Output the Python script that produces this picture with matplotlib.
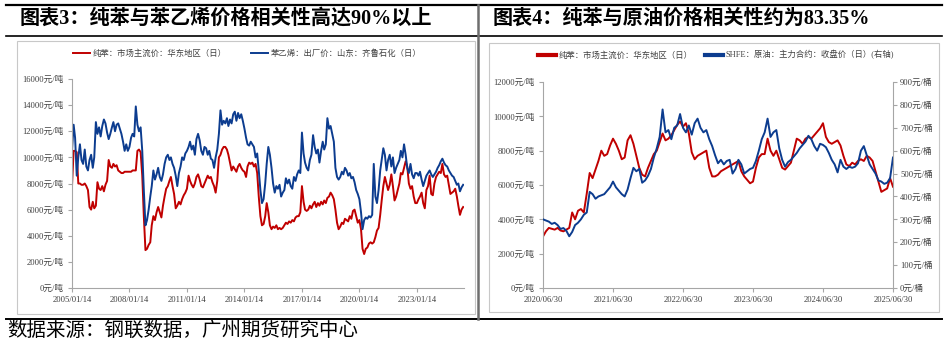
import numpy as np
import pandas as pd
import matplotlib
matplotlib.use('Agg')
import matplotlib.pyplot as plt
from matplotlib.lines import Line2D
from matplotlib.patches import Rectangle

plt.rcParams['font.family'] = ['Liberation Serif', 'Noto Sans CJK SC']

# ---- data: chart 3 (monthly, 2005/01 - 2025/06) ----
benzene_m = [
    7800, 10500, 10500, 10400, 8000, 8000, 7900, 7900, 8000, 7800, 7500, 6200,
    6000, 6600, 6100, 6300, 8100, 7600, 7500, 7800, 7400, 7900, 8200, 9800,
    9300, 9200, 9500, 9300, 9400, 9000, 8900, 8800, 8800, 8900, 8900, 8900,
    8900, 8900, 9000, 9000, 9000, 10500, 10600, 10400, 8600, 5500, 2900, 3000,
    3300, 3500, 4800, 5500, 5200, 5800, 6200, 5800, 5400, 6300, 7000, 7600,
    7800, 8200, 8500, 7800, 7200, 6100, 6300, 6600, 6400, 6800, 7100, 7300,
    7600, 8600, 8200, 7900, 7700, 8000, 8500, 8700, 8300, 7800, 7700, 8000,
    8300, 8600, 8400, 8500, 8100, 7800, 7300, 8200, 10000, 10200, 10600, 10800,
    10800, 10600, 10200, 9600, 9000, 9300, 9100, 8900, 9300, 9500, 9200, 9000,
    8900, 8500, 9300, 9600, 9500, 9600, 9300, 9500, 8800, 7000, 5500, 4800,
    4900, 5500, 6500, 5800, 4800, 4500, 4700, 4600, 4800, 4500, 4600, 4500,
    4600, 4800, 5000, 4900, 5100, 5000, 5200, 5100, 5400, 5500, 5500, 5800,
    7800, 6600, 6000, 5900, 6000, 6300, 6100, 6400, 6600, 6200, 6500, 6300,
    6600, 6400, 6700, 6500, 6900, 7000, 7300, 7100, 6800, 6000, 5000, 4500,
    4700, 5000, 4900, 5300, 5200, 5100, 5500, 5300, 5900, 6000, 5500, 5000,
    5200, 4500, 3000, 2600, 3000, 3100, 3400, 3500, 3400, 3500, 3900, 4400,
    4600, 5600, 6700, 7800, 8500, 8000, 7500, 7900, 8700, 7800, 6700, 7000,
    7500, 8000, 8800, 8700, 9200, 9700, 9300, 8000, 7600, 7800, 7000, 6500,
    6500, 6800, 7000, 7300, 6500, 6100, 7500, 7800, 8600, 7200, 7100, 8000,
    8500, 8700, 8900, 8800, 9500, 8700, 8500, 8600, 7900, 7200, 7300, 7400,
    7600, 7000, 6300, 5600, 6000, 6200,
]
styrene_m = [
    10500, 12500, 11500, 8600, 10000, 11000, 9800, 9500, 10600, 9300, 9000, 9800,
    10200, 9200, 10000, 12700, 11800, 12300, 11600, 12400, 12900, 12600, 11900, 11400,
    11800, 12300, 12700, 12000, 12500, 12600, 12200, 11800, 11200, 10500, 11000, 10500,
    10800, 11500, 11800, 11600, 13900, 12500, 12000, 12300, 10500, 7500, 4800, 5200,
    6000, 7000, 7800, 9000, 8300, 8700, 9200, 8500, 8200, 8700, 9500, 10000,
    10200, 9800, 10000, 9500, 9200, 8600, 7800, 8800, 9300, 10000, 9800, 10300,
    10500, 10800, 11200, 10600, 10900, 10200, 11400, 11800, 11300, 10500, 10200, 10800,
    10700, 10200, 10500, 9900, 9800, 9200, 10000, 10600, 11800, 13600, 12500, 12800,
    12600, 13000, 12400, 12900, 12600, 13300, 13500, 12800, 13400, 13000, 13300, 12800,
    12200, 11500, 11000, 10900, 11200, 11000, 10800, 10000, 10300, 9000, 7500, 6500,
    6800, 8000, 9500, 10800, 10200, 9200, 8000, 7300, 7800, 7600, 7900, 7000,
    7300, 7500, 8400, 8000, 8300, 7800, 7600, 8500, 8200, 8700, 9000, 8800,
    11900, 10300, 9600, 9200, 9000, 9800, 10200, 11700, 10800, 10300, 10600, 9600,
    10500, 11200, 10600, 11000, 13000, 12200, 12400, 11800, 11200, 9200, 8500, 8300,
    8500, 8900, 8700, 9200, 9000, 8600, 8800, 8400, 8500, 8100, 7500, 7200,
    6800, 5800, 4500, 5200, 5400, 5300, 5500, 5400, 5600, 9500, 7000, 6500,
    7500, 9000, 9800, 10700, 10200, 9000, 9800, 10200, 9300, 10000, 8800, 9200,
    9500, 9800, 10500, 10000, 11000, 10200, 9200, 8800, 9500, 8700, 8400, 8800,
    8800, 8600, 8900, 8300, 7800, 8200, 8600, 8800, 9000, 8700, 8500, 8700,
    8900, 9200, 9400, 9700, 9900, 9600, 9400, 9300, 9000, 8800, 8600, 8500,
    8200, 7900, 8000, 7400, 7700, 7900,
]
ticks3 = ['2005/01/14', '2008/01/14', '2011/01/14', '2014/01/14',
          '2017/01/14', '2020/01/14', '2023/01/14']

# ---- data: chart 4 (half-monthly, 2020/06/30 - 2025/06/30) ----
benzene_h = [
    3000, 3300, 3500, 3450, 3400, 3500, 3350, 3300, 3400, 3500,
    4400, 4000, 4500, 4600, 4400, 5500, 6700, 6400, 6900, 7400,
    8000, 7700, 7800, 8300, 8700, 8400, 8000, 7500, 7600, 8600,
    8900, 8400, 7700, 7000, 6600, 6500, 7000, 7400, 7800, 8000,
    8500, 9000, 8600, 8700, 8900, 9200, 9500, 9700, 9400, 9600,
    9000, 7900, 7500, 7700, 7800, 7900, 8000, 7000, 6500, 6500,
    6600, 6800, 6900, 7000, 7100, 7200, 7300, 7400, 6800, 6500,
    6300, 6100, 6200, 7000, 7600, 7800, 7800, 8700, 8000, 7700,
    8000, 7500, 7000, 6900, 7100, 7300, 8000, 8700, 8600, 8400,
    8700, 8800, 8700, 8900, 9100, 9300, 9600, 8800, 8500, 8400,
    8500, 8600, 8300, 7700, 7200, 7100, 7300, 7200, 7400, 7500,
    7400, 7700, 7600, 7400, 6800, 6200, 5600, 5700, 5800, 6400,
    5900,
]
crude_h = [
    300, 295, 290, 280, 285, 275, 258, 262, 250, 226,
    245, 275, 285, 300, 320, 330, 420, 410, 390, 400,
    405, 410, 425, 440, 465, 440, 425, 410, 400, 430,
    480, 525, 510, 520, 460, 470, 490, 520, 570, 610,
    660, 780, 680, 690, 650, 700, 710, 760, 700, 680,
    710, 670, 720, 740, 700, 680, 690, 650, 620, 580,
    545, 560, 540, 555, 560, 500, 520, 560, 540, 500,
    510, 520, 525, 555, 600, 650, 680, 740, 660, 680,
    690, 610, 560, 530, 550, 560, 575, 590, 610, 625,
    640, 665, 650, 620, 600, 630, 625, 615, 590, 560,
    540, 505, 560, 530, 520, 530, 525, 530, 545, 600,
    620, 580, 540, 520, 500, 470, 465, 455, 460, 480,
    570,
]
ticks4 = ['2020/06/30', '2021/06/30', '2022/06/30', '2023/06/30',
          '2024/06/30', '2025/06/30']

RED = '#C00000'
BLUE = '#0C3C8F'
GRID = '#A6A6A6'
TXT = '#404040'

W, H = 945, 348
fig = plt.figure(figsize=(W / 100, H / 100), dpi=100)


def rect(x0, y0, x1, y1):
    # pixel box -> figure fraction [left, bottom, width, height]
    return [x0 / W, 1 - y1 / H, (x1 - x0) / W, (y1 - y0) / H]


def hline(y, x0, x1, lw, color='black'):
    fig.add_artist(Line2D([x0 / W, x1 / W], [1 - y / H, 1 - y / H], lw=lw,
                          color=color, transform=fig.transFigure))


def style(ax):
    for s in ['top', 'right']:
        ax.spines[s].set_visible(False)
    for s in ['left', 'bottom']:
        ax.spines[s].set_color(GRID)
        ax.spines[s].set_linewidth(0.8)
    ax.tick_params(colors=GRID, labelcolor=TXT, labelsize=6.2, length=3,
                   width=0.8, direction='out')
    ax.tick_params(axis='x', pad=2.5)
    ax.tick_params(axis='y', pad=3)
    ax.set_facecolor('none')


# frame lines and boxes
hline(5, 6, 942, 1.6)
hline(36, 6, 942, 1.2)
hline(319, 6, 942, 1.4)
fig.add_artist(Line2D([478 / W, 478 / W], [1 - 5 / H, 1 - 319 / H], lw=1.8,
                      color='#6E6E6E', transform=fig.transFigure))
for x0, y0, x1, y1 in [(17, 41, 475, 314), (489, 43, 939, 312)]:
    fig.add_artist(Rectangle((x0 / W, 1 - y1 / H), (x1 - x0) / W, (y1 - y0) / H,
                             fill=False, edgecolor='#C8C8C8', lw=0.8,
                             transform=fig.transFigure))

fig.text(20 / W, 1 - 19 / H, '图表3：纯苯与苯乙烯价格相关性高达90%以上',
         fontsize=14.5, fontweight='bold', va='center', ha='left')
fig.text(493 / W, 1 - 19 / H, '图表4：纯苯与原油价格相关性约为83.35%',
         fontsize=14.5, fontweight='bold', va='center', ha='left')
fig.text(7 / W, 1 - 331 / H, '数据来源：钢联数据，广州期货研究中心',
         fontsize=14, va='center', ha='left')

# ---- chart 3 ----
ax1 = fig.add_axes(rect(72, 79, 464, 288))
d3 = pd.date_range('2005-01-01', periods=len(benzene_m), freq='MS') + pd.Timedelta(days=13)
ax1.plot(d3, benzene_m, color=RED, lw=1.4, label='纯苯：市场主流价：华东地区（日）')
ax1.plot(d3, styrene_m, color=BLUE, lw=1.4, label='苯乙烯：出厂价：山东：齐鲁石化（日）')
ax1.set_xlim(pd.Timestamp('2005-01-14'), pd.Timestamp('2025-06-30'))
ax1.set_ylim(0, 16000)
yt = np.arange(0, 16001, 2000)
ax1.set_yticks(yt)
ax1.set_yticklabels([f'{v}元/吨' for v in yt])
ax1.set_xticks(pd.to_datetime(ticks3, format='%Y/%m/%d'))
ax1.set_xticklabels(ticks3)
style(ax1)
ax1.legend(loc='center', bbox_to_anchor=(247 / W, 1 - 54 / H),
           bbox_transform=fig.transFigure, ncol=2, frameon=False, fontsize=6,
           handlelength=2.0, handletextpad=0.3, columnspacing=3.0,
           labelcolor=TXT)

# ---- chart 4 ----
ax2 = fig.add_axes(rect(543, 82, 893, 288))
d4 = pd.date_range('2020-06-30', '2025-06-30', periods=len(benzene_h))
l1, = ax2.plot(d4, benzene_h, color=RED, lw=1.4)
ax2.set_xlim(pd.Timestamp('2020-06-30'), pd.Timestamp('2025-06-30'))
ax2.set_ylim(0, 12000)
yt2 = np.arange(0, 12001, 2000)
ax2.set_yticks(yt2)
ax2.set_yticklabels([f'{v}元/吨' for v in yt2])
ax2.set_xticks(pd.to_datetime(ticks4, format='%Y/%m/%d'))
ax2.set_xticklabels(ticks4)
style(ax2)

ax3 = ax2.twinx()
l2, = ax3.plot(d4, crude_h, color=BLUE, lw=1.4)
ax3.set_ylim(0, 900)
yt3 = np.arange(0, 901, 100)
ax3.set_yticks(yt3)
ax3.set_yticklabels([f'{v}元/桶' for v in yt3])
for s in ['top', 'left', 'bottom']:
    ax3.spines[s].set_visible(False)
ax3.spines['right'].set_color(GRID)
ax3.spines['right'].set_linewidth(0.8)
ax3.tick_params(colors=GRID, labelcolor=TXT, labelsize=6.2, length=3,
                width=0.8, direction='out', pad=2)
ax3.set_facecolor('none')

fig.legend([l1, l2], ['纯苯：市场主流价：华东地区（日）', 'SHFE：原油：主力合约：收盘价（日）(右轴)'],
           loc='center', bbox_to_anchor=(716 / W, 1 - 55 / H),
           bbox_transform=fig.transFigure, ncol=2, frameon=False, fontsize=6,
           handlelength=2.2, handletextpad=0.3, columnspacing=1.5,
           labelcolor=TXT)
for h in fig.legends[0].get_lines():
    h.set_linewidth(3)

fig.savefig('out.png', dpi=100)
